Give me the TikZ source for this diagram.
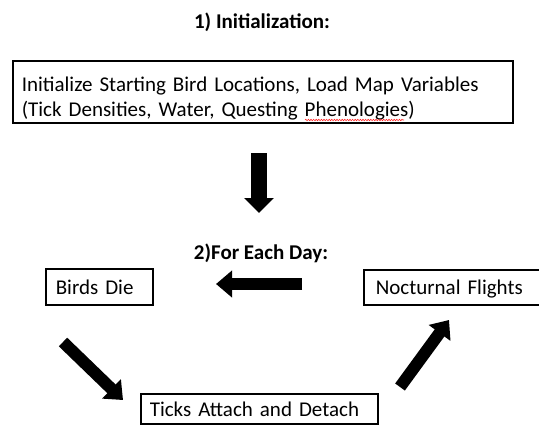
\documentclass[tikz,border=0pt]{standalone}
\usepackage{fontspec}
\setmainfont{Carlito}
\usetikzlibrary{arrows.meta,decorations.pathmorphing}
\tikzset{
  txt/.style={font=\fontsize{21bp}{25.4bp}\selectfont},
  box/.style={txt, draw=black, line width=1.6bp, anchor=north west, align=left,
              inner ysep=0pt, text height=15bp, text depth=0bp},
  ttl/.style={font=\fontsize{21bp}{25.4bp}\selectfont\bfseries, anchor=base, inner sep=0pt},
  bigarrow/.style={draw=black, line width=#1, line cap=butt},
  tipA/.style={-{Triangle[width=29bp,length=15bp]}},
  tipB/.style={-{Triangle[width=26bp,length=16bp]}},
}
\begin{document}
\begin{tikzpicture}[x=1bp,y=-1bp]
\clip (0,0) rectangle (539,424);
\fill[white] (0,0) rectangle (539,424);

\node[ttl] (t1) at (262,28) {1) Initialization:};
\node[box, inner xsep=9bp, text width=482bp, minimum height=62bp, text depth=16bp] (init) at (12,60)
  {Initialize Starting Bird Locations, Load Map Variables\\(Tick Densities, Water, Questing Phenologies)};
\draw[red!85!white, line width=0.6bp, decorate, decoration={snake, amplitude=0.7bp, segment length=2.6bp}]
  (305,120) -- (404,120);

\coordinate (d1) at (259,153);
\coordinate (d2) at (259,213);
\draw[bigarrow=16bp, tipA] (d1) -- (d2);

\node[ttl] (t2) at (261,259) {2)For Each Day:};

\node[box, inner xsep=10bp, text width=87bp, minimum height=36bp] (die) at (45,268) {Birds Die};
\node[box, inner xsep=12bp, text width=176bp, minimum height=35bp] (fly) at (363,269) {Nocturnal Flights};
\node[box, inner xsep=9bp, text width=219bp, minimum height=30bp] (tick) at (140,393) {Ticks Attach and Detach};

\coordinate (l1) at (302,284);
\coordinate (l2) at (216,284);
\draw[bigarrow=12.5bp, tipB] (l1) -- (l2);

\coordinate (a1) at (63,342);
\coordinate (a2) at (123,400);
\draw[bigarrow=12bp, tipB] (a1) -- (a2);

\coordinate (b1) at (400,387);
\coordinate (b2) at (449,320);
\draw[bigarrow=12bp, tipB] (b1) -- (b2);
\end{tikzpicture}
\end{document}
